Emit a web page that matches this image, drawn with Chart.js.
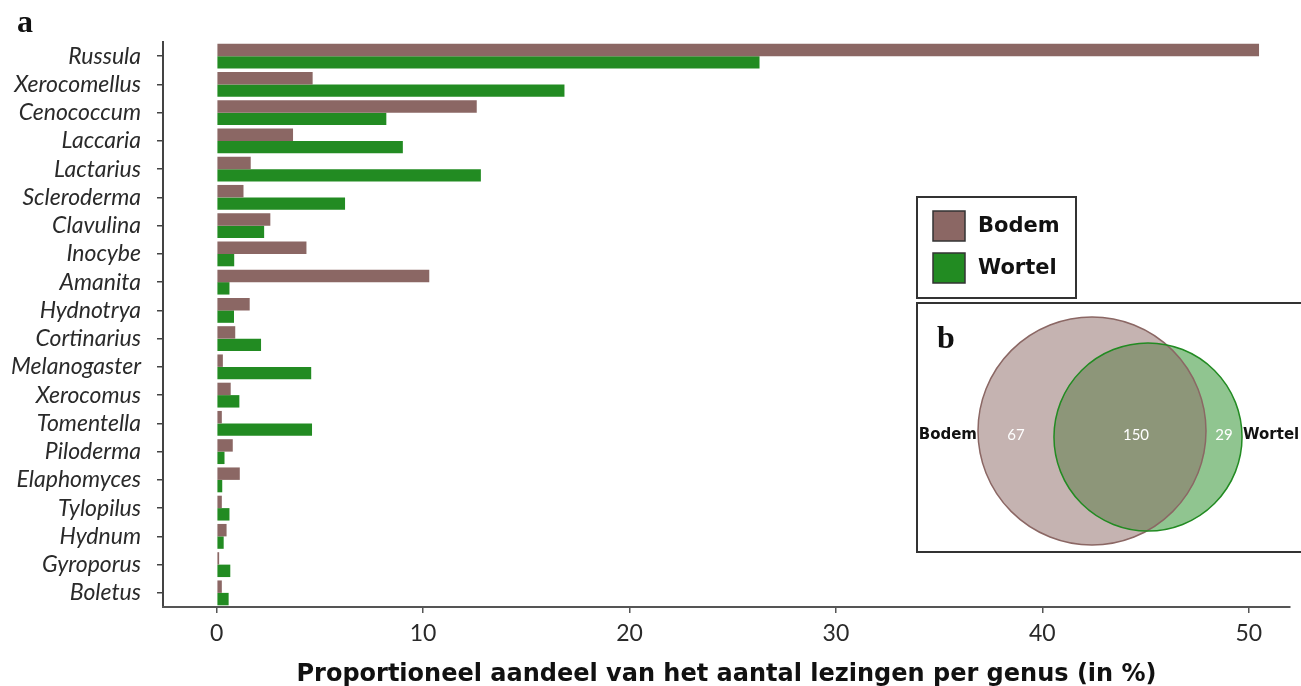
<!DOCTYPE html>
<html><head><meta charset="utf-8">
<script src="https://cdn.jsdelivr.net/npm/chart.js@4.4.0/dist/chart.umd.min.js"></script>
<style>html,body{margin:0;padding:0;background:#fff;overflow:hidden}#wrap{position:relative;width:1301px;height:686px}</style>
</head><body><div id="wrap"><canvas id="c" width="1301" height="686"></canvas></div>
<script>
const genera = ['Russula','Xerocomellus','Cenococcum','Laccaria','Lactarius','Scleroderma','Clavulina','Inocybe','Amanita','Hydnotrya','Cortinarius','Melanogaster','Xerocomus','Tomentella','Piloderma','Elaphomyces','Tylopilus','Hydnum','Gyroporus','Boletus'];
const bodemValues = [50.5, 4.65, 12.6, 3.7, 1.65, 1.3, 2.6, 4.35, 10.3, 1.6, 0.9, 0.3, 0.68, 0.25, 0.78, 1.12, 0.25, 0.48, 0.12, 0.25];
const wortelValues = [26.3, 16.85, 8.22, 9.02, 12.8, 6.22, 2.3, 0.85, 0.62, 0.84, 2.15, 4.58, 1.1, 4.62, 0.38, 0.27, 0.62, 0.34, 0.66, 0.58];
const seriesNames = ['Bodem', 'Wortel'];
const xTickValues = [0, 10, 20, 30, 40, 50];
const axisTitle = 'Proportioneel aandeel van het aantal lezingen per genus (in %)';
const vennSetLabels = ['Bodem', 'Wortel'];
const vennCounts = [67, 150, 29]; // alleen Bodem, gedeeld, alleen Wortel

const COL_BODEM = '#8b6764';
const COL_WORTEL = '#228b22';

const extras = {
  id: 'extras',
  afterDraw(chart) {
    const ctx = chart.ctx;
    ctx.save();
    ctx.fillStyle = '#111';
    ctx.font = 'bold 32px "Liberation Serif", "DejaVu Serif", serif';
    ctx.textBaseline = 'middle';
    ctx.textAlign = 'left';
    ctx.fillText('a', 17, 24);

    // legend
    ctx.strokeStyle = '#333';
    ctx.lineWidth = 2;
    ctx.strokeRect(917, 197, 159, 101);
    const cols = [COL_BODEM, COL_WORTEL];
    const ys = [211, 253];
    chart.data.datasets.forEach((ds, i) => {
      ctx.fillStyle = cols[i];
      ctx.fillRect(933, ys[i], 32, 30);
      ctx.lineWidth = 1.5;
      ctx.strokeStyle = '#333';
      ctx.strokeRect(933, ys[i], 32, 30);
      ctx.fillStyle = '#111';
      ctx.font = 'bold 21px "DejaVu Sans", "Liberation Sans", sans-serif';
      ctx.textBaseline = 'middle';
      ctx.fillText(ds.label, 978, ys[i] + 16);
    });

    // venn panel
    ctx.lineWidth = 2;
    ctx.strokeStyle = '#333';
    ctx.strokeRect(917, 303, 400, 249);
    ctx.fillStyle = '#111';
    ctx.font = 'bold 32px "Liberation Serif", "DejaVu Serif", serif';
    ctx.fillText('b', 937, 340);

    const s = 114 / (vennCounts[0] + vennCounts[1]);
    const rB = s * (vennCounts[0] + vennCounts[1]);
    const rW = s * (vennCounts[1] + vennCounts[2]);
    const cB = {x: 1092, y: 431};
    const cW = {x: 1148, y: 437};
    ctx.beginPath();
    ctx.arc(cW.x, cW.y, rW, 0, Math.PI * 2);
    ctx.fillStyle = 'rgba(34,139,34,0.5)';
    ctx.fill();
    ctx.beginPath();
    ctx.arc(cB.x, cB.y, rB, 0, Math.PI * 2);
    ctx.fillStyle = 'rgba(139,103,100,0.5)';
    ctx.fill();
    ctx.lineWidth = 1.5;
    ctx.strokeStyle = COL_BODEM;
    ctx.stroke();
    ctx.beginPath();
    ctx.arc(cW.x, cW.y, rW, 0, Math.PI * 2);
    ctx.strokeStyle = COL_WORTEL;
    ctx.stroke();

    const lB = cB.x - rB, rBedge = cB.x + rB, lW = cW.x - rW, rWedge = cW.x + rW;
    ctx.fillStyle = '#fff';
    ctx.font = '15px Lato, "Open Sans", sans-serif';
    ctx.textAlign = 'center';
    ctx.textBaseline = 'middle';
    ctx.fillText(String(vennCounts[0]), (lB + lW) / 2, 435);
    ctx.fillText(String(vennCounts[1]), (lW + rBedge) / 2 + 6, 435);
    ctx.fillText(String(vennCounts[2]), (rBedge + rWedge) / 2, 435);
    ctx.fillStyle = '#111';
    ctx.font = 'bold 15px "DejaVu Sans", "Liberation Sans", sans-serif';
    ctx.textAlign = 'right';
    ctx.fillText(vennSetLabels[0], lB - 1, 435);
    ctx.textAlign = 'left';
    ctx.fillText(vennSetLabels[1], rWedge + 1, 435);
    ctx.restore();
  }
};

new Chart(document.getElementById('c'), {
  type: 'bar',
  data: {
    labels: genera,
    datasets: [
      {label: seriesNames[0], data: bodemValues, backgroundColor: COL_BODEM, barPercentage: 1, categoryPercentage: 0.88},
      {label: seriesNames[1], data: wortelValues, backgroundColor: COL_WORTEL, barPercentage: 1, categoryPercentage: 0.88}
    ]
  },
  options: {
    indexAxis: 'y',
    responsive: false,
    animation: false,
    devicePixelRatio: 1,
    layout: {padding: {left: 0, right: 11, top: 42, bottom: -3}},
    plugins: {legend: {display: false}, tooltip: {enabled: false}},
    scales: {
      y: {
        type: 'category',
        grid: {display: true, drawOnChartArea: false, offset: false, tickLength: 6, color: '#444', lineWidth: 1.5},
        border: {display: true, color: '#444', width: 2},
        ticks: {autoSkip: false, color: '#2a2a2a', padding: 16, font: {family: 'Lato, "Open Sans", sans-serif', style: 'italic', size: 23}},
        afterFit(s) { s.width = 163; }
      },
      x: {
        type: 'linear',
        min: -2.6,
        max: 52,
        afterBuildTicks(s) { s.ticks = xTickValues.map(v => ({value: v})); },
        grid: {display: true, drawOnChartArea: false, tickLength: 6, color: '#555', lineWidth: 1.5},
        border: {display: true, color: '#555', width: 2},
        ticks: {color: '#2a2a2a', padding: 7, font: {family: 'Lato, "Open Sans", sans-serif', size: 23}},
        title: {display: true, text: axisTitle, color: '#111', padding: {top: 0, bottom: 0}, font: {family: '"DejaVu Sans", "Liberation Sans", sans-serif', weight: 'bold', size: 24}},
        afterFit(s) { s.height = 82; }
      }
    }
  },
  plugins: [extras]
});
</script></body></html>
